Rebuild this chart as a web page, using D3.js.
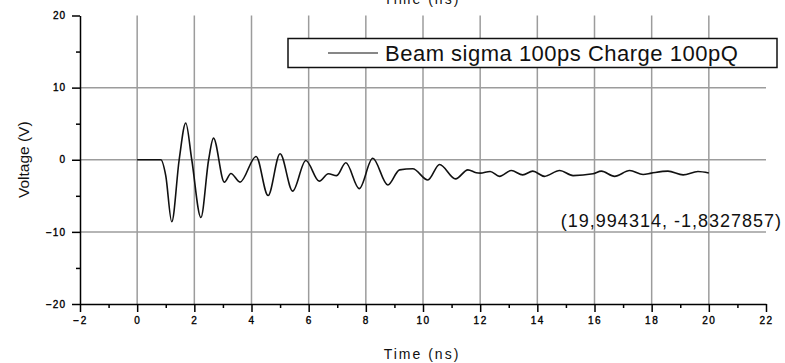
<!DOCTYPE html>
<html>
<head>
<meta charset="utf-8">
<script src="https://cdn.jsdelivr.net/npm/d3@7"></script>
<style>
  body { margin: 0; background: #fff; }
  svg { display: block; font-family: Arial, "Liberation Sans", sans-serif; }
</style>
</head>
<body>
<script>
// waveform (ns, V)
const time = [0, 0.83, 1.0, 1.21, 1.47, 1.70, 1.91, 2.23, 2.5, 2.67, 3.05, 3.28, 3.6,
  4.16, 4.58, 5.0, 5.44, 5.9, 6.37, 6.69, 6.98, 7.3, 7.77, 8.24, 8.77, 9.18, 9.64,
  10.17, 10.58, 11.14, 11.57, 11.86, 12.0, 12.35, 12.68, 13.09, 13.49, 13.84, 14.25,
  14.78, 15.25, 15.95, 16.24, 16.7, 17.23, 17.7, 17.99, 18.57, 19.1, 19.62, 20.0]
const voltage = [0, 0, -2.2, -8.6, 0, 5.1, 0, -8.0, 0, 3.0, -3.1, -1.9, -3.1,
  0.46, -4.96, 0.83, -4.35, -0.1, -2.97, -1.95, -2.2, -0.42, -4.0, 0.2, -3.5, -1.4, -1.25,
  -2.8, -0.65, -2.65, -1.4, -1.8, -1.86, -1.62, -2.3, -1.49, -2.1, -1.58, -2.3,
  -1.49, -2.2, -1.95, -1.58, -2.3, -1.5, -2.05, -1.86, -1.58, -2.1, -1.62, -1.83]

const xMajor = [-2, 0, 2, 4, 6, 8, 10, 12, 14, 16, 18, 20, 22]
const xMinor = [-1, 1, 3, 5, 7, 9, 11, 13, 15, 17, 19, 21]
const yMajor = [-20, -10, 0, 10, 20]
const yMinor = [-15, -5, 5, 15]
const xGrid = [0, 2, 4, 6, 8, 10, 12, 14, 16, 18, 20]
const yGrid = [-10, 0, 10]

const seriesName = "Beam sigma 100ps Charge 100pQ"
const cursorLabel = "(19,994314, -1,8327857)"

const width = 785, height = 363

const x = d3.scaleLinear().domain([-2, 22]).range([80, 766])
const y = d3.scaleLinear().domain([-20, 20]).range([304, 15.5])

const svg = d3.select("body").append("svg")
    .attr("width", width)
    .attr("height", height)

// grid
svg.append("g")
    .selectAll("line")
    .data(xGrid)
    .join("line")
    .attr("x1", d => x(d)).attr("x2", d => x(d))
    .attr("y1", y(20)).attr("y2", y(-20))
    .attr("stroke", "#9c9c9c")
    .attr("stroke-width", 1.5)

svg.append("g")
    .selectAll("line")
    .data(yGrid)
    .join("line")
    .attr("x1", x(-2)).attr("x2", x(22))
    .attr("y1", d => y(d)).attr("y2", d => y(d))
    .attr("stroke", "#9c9c9c")
    .attr("stroke-width", 1.5)

// axes
const labelStyle = g => g
    .attr("font-size", 10)
    .attr("fill", "#000")
    .attr("stroke", "#000")
    .attr("stroke-width", 0.35)

const xAxis = g => g
    .attr("transform", `translate(0, ${y(-20)})`)
    .call(d3.axisBottom(x).tickValues(xMajor).tickSize(8).tickSizeOuter(0).tickPadding(5))
    .call(g => g.select(".domain").attr("stroke-width", 1.5))
    .call(g => g.selectAll(".tick line").attr("stroke-width", 1.5))
    .call(g => g.selectAll(".tick text").call(labelStyle).attr("letter-spacing", "1.5px"))

const xAxisMinor = g => g
    .attr("transform", `translate(0, ${y(-20)})`)
    .call(d3.axisBottom(x).tickValues(xMinor).tickSize(4).tickFormat(""))
    .call(g => g.select(".domain").remove())
    .call(g => g.selectAll(".tick line").attr("stroke-width", 1.5))

const yAxis = g => g
    .attr("transform", `translate(${x(-2)}, 0)`)
    .call(d3.axisLeft(y).tickValues(yMajor).tickSize(8).tickSizeOuter(0).tickPadding(6))
    .call(g => g.select(".domain").attr("stroke-width", 1.5))
    .call(g => g.selectAll(".tick line").attr("stroke-width", 1.5))
    .call(g => g.selectAll(".tick text").call(labelStyle).attr("letter-spacing", "1px"))

const yAxisMinor = g => g
    .attr("transform", `translate(${x(-2)}, 0)`)
    .call(d3.axisLeft(y).tickValues(yMinor).tickSize(4).tickFormat(""))
    .call(g => g.select(".domain").remove())
    .call(g => g.selectAll(".tick line").attr("stroke-width", 1.5))

svg.append("g").call(xAxisMinor)
svg.append("g").call(yAxisMinor)
svg.append("g").call(xAxis)
svg.append("g").call(yAxis)

// axis titles
svg.append("text")
    .attr("x", 422).attr("y", 359)
    .attr("text-anchor", "middle")
    .attr("font-size", 14)
    .attr("letter-spacing", "2px")
    .attr("fill", "#111")
    .text("Time (ns)")

// top title, cut off by the page edge as in the original
svg.append("text")
    .attr("x", 422).attr("y", 4)
    .attr("text-anchor", "middle")
    .attr("font-size", 14)
    .attr("letter-spacing", "2px")
    .attr("fill", "#111")
    .text("Time (ns)")

svg.append("text")
    .attr("transform", `translate(29, ${y(0)}) rotate(-90)`)
    .attr("text-anchor", "middle")
    .attr("font-size", 15.5)
    .attr("fill", "#111")
    .text("Voltage (V)")

// waveform
const line = d3.line()
    .x((d, i) => x(time[i]))
    .y(d => y(d))
    .curve(d3.curveMonotoneX)

svg.append("path")
    .datum(voltage)
    .attr("d", line)
    .attr("fill", "none")
    .attr("stroke", "#111")
    .attr("stroke-width", 1.6)

// legend
const legend = svg.append("g")
legend.append("rect")
    .attr("x", 288).attr("y", 38.5)
    .attr("width", 489).attr("height", 29)
    .attr("fill", "#fff")
    .attr("stroke", "#111")
    .attr("stroke-width", 1.5)
legend.append("line")
    .attr("x1", 328).attr("x2", 378)
    .attr("y1", 53).attr("y2", 53)
    .attr("stroke", "#111")
    .attr("stroke-width", 1.2)
legend.append("text")
    .attr("x", 385).attr("y", 61)
    .attr("font-size", 22)
    .attr("letter-spacing", "0.5px")
    .attr("fill", "#111")
    .text(seriesName)

// data reader label
svg.append("text")
    .attr("x", 782).attr("y", 226.5)
    .attr("text-anchor", "end")
    .attr("font-size", 18)
    .attr("letter-spacing", "1px")
    .attr("fill", "#111")
    .text(cursorLabel)
</script>
</body>
</html>
